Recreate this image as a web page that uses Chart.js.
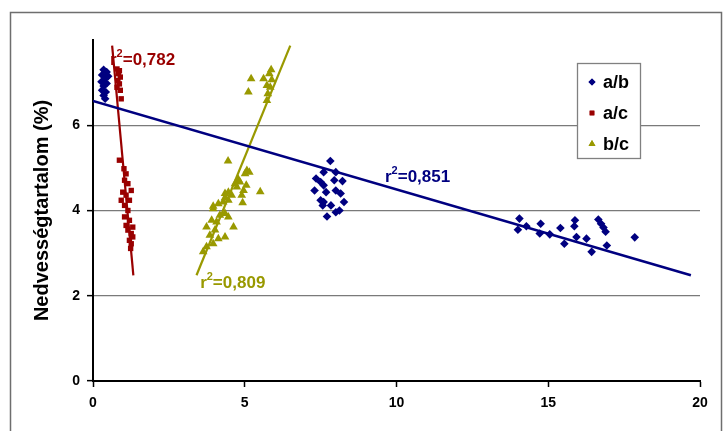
<!DOCTYPE html>
<html>
<head>
<meta charset="utf-8">
<script src="https://cdn.jsdelivr.net/npm/chart.js@4/dist/chart.umd.min.js"></script>
<style>
  body { margin: 0; background: #fff; }
</style>
</head>
<body>
<canvas id="moist-chart" width="726" height="431"></canvas>
<script>
// a/b series (blue diamonds)
var abX = [0.35, 0.45, 0.30, 0.50, 0.40, 0.28, 0.45, 0.35, 0.30, 0.42, 0.35, 0.40,
           7.82, 7.60, 8.00, 7.35, 7.50, 7.95, 8.22, 7.30, 7.60, 7.68, 8.00, 8.16, 7.50, 7.60, 8.27, 7.84, 7.57, 8.12, 8.00, 7.71,
           14.05, 14.0, 14.28, 14.75, 14.72, 15.05, 15.40, 15.53, 15.88, 15.86, 15.93, 16.26, 16.43, 16.65, 16.74, 16.82, 16.89, 16.93, 17.85];
var abY = [7.30, 7.25, 7.18, 7.15, 7.10, 7.02, 6.98, 6.92, 6.82, 6.78, 6.70, 6.62,
           5.16, 4.90, 4.90, 4.75, 4.67, 4.71, 4.69, 4.47, 4.59, 4.43, 4.47, 4.40, 4.24, 4.20, 4.20, 4.12, 4.12, 4.00, 3.96, 3.86,
           3.81, 3.55, 3.63, 3.69, 3.46, 3.44, 3.59, 3.22, 3.77, 3.63, 3.38, 3.34, 3.03, 3.79, 3.69, 3.60, 3.50, 3.18, 3.37];

// a/c series (red squares)
var acX = [0.79, 0.87, 0.84, 0.90, 0.82, 0.87, 0.79, 0.90, 0.93,
           0.87, 1.02, 1.09, 1.04, 1.15, 0.98, 1.26, 1.09, 0.93, 1.20, 1.04, 1.15, 1.04, 1.20, 1.09, 1.31, 1.15, 1.26, 1.31, 1.20, 1.26, 1.24];
var acY = [7.32, 7.28, 7.21, 7.13, 7.05, 6.97, 6.89, 6.82, 6.62,
           5.18, 4.98, 4.86, 4.71, 4.63, 4.43, 4.47, 4.36, 4.24, 4.24, 4.12, 4.00, 3.85, 3.77, 3.65, 3.61, 3.54, 3.46, 3.38, 3.30, 3.22, 3.11];

// b/c series (olive triangles)
var bcX = [5.87, 5.81, 5.62, 5.89, 5.21, 5.73, 5.84, 5.12, 5.76, 5.73,
           4.45, 5.07, 5.15, 5.01, 4.79, 4.84, 4.68, 5.05, 4.74, 4.96, 5.51, 4.46, 4.35, 4.57, 4.90, 4.35, 4.46, 4.29, 4.93, 4.13,
           3.96, 3.96, 4.35, 4.18, 4.46, 3.91, 4.07, 4.63, 3.74, 4.02, 3.85, 4.35, 4.13, 3.96, 3.74, 3.63];
var bcY = [7.30, 7.21, 7.09, 7.07, 7.09, 6.93, 6.89, 6.78, 6.74, 6.58,
           5.16, 4.94, 4.90, 4.86, 4.73, 4.67, 4.63, 4.59, 4.55, 4.47, 4.44, 4.43, 4.40, 4.36, 4.36, 4.30, 4.24, 4.20, 4.18, 4.16,
           4.10, 4.04, 3.93, 3.89, 3.85, 3.77, 3.73, 3.61, 3.61, 3.54, 3.42, 3.38, 3.34, 3.22, 3.15, 3.03];

// trend line end points [x1, x2] / [y1, y2]
var abTrendX = [0, 19.7];
var abTrendY = [6.57, 2.48];
var acTrendX = [0.63, 1.33];
var acTrendY = [7.87, 2.48];
var bcTrendX = [3.41, 6.50];
var bcTrendY = [2.48, 7.87];

// r2 labels: text and anchor (data units)
var r2Labels = ['0,782', '0,809', '0,851'];
var r2X = [0.56, 3.53, 9.62];
var r2Y = [7.53, 2.30, 4.79];

var xTicks = [0, 5, 10, 15, 20];
var yTicks = [0, 2, 4, 6];
var yTitle = 'Nedvességtartalom (%)';

var BLUE = '#000080', RED = '#990000', OLIVE = '#999900';
var FONT = '"Liberation Sans", Arial, sans-serif';

function pts(xs, ys) {
    return xs.map(function(x, i) { return { x: x, y: ys[i] }; });
}

var series = [
    { label: 'a/b', color: BLUE, style: 'rectRot', r: 4.3, legendR: 3.5 },
    { label: 'a/c', color: RED, style: 'rect', r: 3.8, legendR: 3.3 },
    { label: 'b/c', color: OLIVE, style: 'triangle', r: 5, legendR: 4 }
];
var r2Colors = [RED, OLIVE, BLUE];

// outer frame around the whole chart
var framePlugin = {
    id: 'frame',
    beforeDraw: function(chart) {
        var ctx = chart.ctx;
        ctx.save();
        ctx.fillStyle = '#fff';
        ctx.fillRect(0, 0, chart.width, chart.height);
        ctx.strokeStyle = '#6e6e6e';
        ctx.lineWidth = 1.5;
        ctx.strokeRect(10.5, 12.5, 711, 440);
        ctx.restore();
    }
};

// r^2 labels next to the trend lines
var r2Plugin = {
    id: 'r2',
    afterDatasetsDraw: function(chart) {
        var ctx = chart.ctx, xs = chart.scales.x, ys = chart.scales.y;
        ctx.save();
        ctx.textBaseline = 'middle';
        ctx.textAlign = 'left';
        r2Labels.forEach(function(t, i) {
            var px = xs.getPixelForValue(r2X[i]);
            var py = ys.getPixelForValue(r2Y[i]);
            ctx.fillStyle = r2Colors[i];
            ctx.font = 'bold 17px ' + FONT;
            ctx.fillText('r', px, py);
            var w = ctx.measureText('r').width;
            ctx.font = 'bold 11px ' + FONT;
            ctx.fillText('2', px + w, py - 6);
            var w2 = ctx.measureText('2').width;
            ctx.font = 'bold 17px ' + FONT;
            ctx.fillText('=' + t, px + w + w2, py);
        });
        ctx.restore();
    }
};

// legend box in the upper right of the plot
var legendPlugin = {
    id: 'boxLegend',
    afterDraw: function(chart) {
        var ctx = chart.ctx;
        ctx.save();
        ctx.fillStyle = '#fff';
        ctx.fillRect(577, 63, 64, 96);
        ctx.strokeStyle = '#808080';
        ctx.lineWidth = 1.3;
        ctx.strokeRect(577.5, 63.5, 63, 95);
        ctx.font = 'bold 18px ' + FONT;
        ctx.textBaseline = 'middle';
        series.forEach(function(s, i) {
            var y = 82 + i * 31;
            ctx.fillStyle = s.color;
            ctx.strokeStyle = s.color;
            Chart.helpers.drawPoint(ctx, { pointStyle: s.style, radius: s.legendR, rotation: 0, borderWidth: 0 }, 592, y);
            ctx.fill();
            ctx.fillStyle = '#000';
            ctx.fillText(s.label, 603, y + 1);
        });
        ctx.restore();
    }
};

var datasets = series.map(function(s, i) {
    var xs = [abX, acX, bcX][i], ys = [abY, acY, bcY][i];
    return {
        label: s.label,
        data: pts(xs, ys),
        pointStyle: s.style,
        pointRadius: s.r,
        pointHoverRadius: s.r,
        backgroundColor: s.color,
        borderColor: s.color,
        borderWidth: 0,
        showLine: false,
        order: 1
    };
});

[[abTrendX, abTrendY, BLUE, 2.5], [acTrendX, acTrendY, RED, 2.2], [bcTrendX, bcTrendY, OLIVE, 2.2]].forEach(function(t) {
    datasets.push({
        label: 'trend',
        data: pts(t[0], t[1]),
        showLine: true,
        pointRadius: 0,
        borderColor: t[2],
        borderWidth: t[3],
        fill: false,
        order: 0
    });
});

var ctx = document.getElementById('moist-chart').getContext('2d');

var chart = new Chart(ctx, {
    type: 'scatter',
    data: { datasets: datasets },
    plugins: [framePlugin, r2Plugin, legendPlugin],
    options: {
        responsive: false,
        animation: false,
        layout: { padding: { left: 10, top: 40, right: 26, bottom: 0 } },
        plugins: {
            legend: { display: false },
            tooltip: { enabled: false }
        },
        scales: {
            x: {
                type: 'linear',
                min: 0,
                max: 20,
                afterBuildTicks: function(scale) {
                    scale.ticks = xTicks.map(function(v) { return { value: v }; });
                },
                afterFit: function(scale) { scale.height = 50; },
                grid: {
                    color: 'rgba(0,0,0,0)',
                    tickColor: '#000',
                    tickLength: 6,
                    tickWidth: 1.5
                },
                border: { color: '#000', width: 2 },
                ticks: {
                    color: '#000',
                    padding: 8,
                    font: { family: FONT, size: 14, weight: 'bold' }
                }
            },
            y: {
                type: 'linear',
                min: 0,
                max: 8,
                afterBuildTicks: function(scale) {
                    scale.ticks = yTicks.map(function(v) { return { value: v }; });
                },
                afterFit: function(scale) { scale.width = 83; },
                grid: {
                    color: function(c) { return c.tick && c.tick.value > 0 ? '#7a7a7a' : 'rgba(0,0,0,0)'; },
                    lineWidth: 1.3,
                    tickColor: '#000',
                    tickLength: 6,
                    tickWidth: 1.5
                },
                border: { color: '#000', width: 2 },
                ticks: {
                    color: '#000',
                    padding: 7,
                    font: { family: FONT, size: 14, weight: 'bold' }
                },
                title: {
                    display: true,
                    text: yTitle,
                    color: '#000',
                    padding: { top: 20, bottom: 0 },
                    font: { family: FONT, size: 20, weight: 'bold' }
                }
            }
        }
    }
});
</script>
</body>
</html>
